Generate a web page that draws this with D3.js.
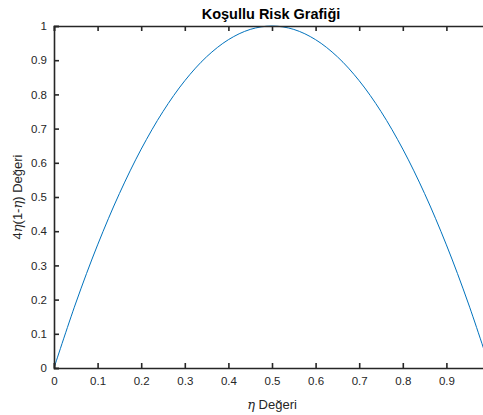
<!DOCTYPE html>
<html>
<head>
  <meta charset="UTF-8" />
  <title>Koşullu Risk Grafiği</title>
  <script src="https://d3js.org/d3.v7.min.js"></script>
  <style>
    body { margin: 0; background: #fff; }
    text { font-family: "Liberation Sans", Arial, Helvetica, sans-serif; fill: #262626; }
    .eta { font-family: "DejaVu Serif", "Liberation Serif", serif; font-style: italic; }
  </style>
</head>
<body>
  <div id="chart"></div>
  <script>
    // values
    const eta = [0, 0.05, 0.1, 0.15, 0.2, 0.25, 0.3, 0.35, 0.4, 0.45, 0.5,
                 0.55, 0.6, 0.65, 0.7, 0.75, 0.8, 0.85, 0.9, 0.95, 1];
    const risk = [0, 0.19, 0.36, 0.51, 0.64, 0.75, 0.84, 0.91, 0.96, 0.99, 1,
                  0.99, 0.96, 0.91, 0.84, 0.75, 0.64, 0.51, 0.36, 0.19, 0];
    const xTicks = [0, 0.1, 0.2, 0.3, 0.4, 0.5, 0.6, 0.7, 0.8, 0.9];
    const yTicks = [0, 0.1, 0.2, 0.3, 0.4, 0.5, 0.6, 0.7, 0.8, 0.9, 1];

    const width = 483, height = 415;
    const mLeft = 54, mTop = 26, mBottom = 368, mRight = 490;

    const svg = d3.select("#chart")
      .append("svg")
      .attr("width", width)
      .attr("height", height);

    const x = d3.scaleLinear().domain([0, 1]).range([mLeft, mRight]);
    const y = d3.scaleLinear().domain([0, 1]).range([mBottom, mTop]);

    // clip for the curve
    svg.append("clipPath").attr("id", "clip")
      .append("rect")
      .attr("x", mLeft).attr("y", mTop - 2)
      .attr("width", mRight - mLeft).attr("height", mBottom - mTop + 2);

    const data = eta.map((e, i) => ({ e: e, r: risk[i] }));

    const line = d3.line()
      .x(d => x(d.e))
      .y(d => y(d.r))
      .curve(d3.curveCatmullRom);

    svg.append("path")
      .datum(data)
      .attr("clip-path", "url(#clip)")
      .attr("fill", "none")
      .attr("stroke", "#0072BD")
      .attr("stroke-width", 1)
      .attr("d", line);

    // axes
    const xAxis = d3.axisBottom(x).tickValues(xTicks).tickSize(-5).tickPadding(9)
      .tickFormat(d3.format("~g"));
    const yAxis = d3.axisLeft(y).tickValues(yTicks).tickSize(-5).tickPadding(7)
      .tickFormat(d3.format("~g"));
    const topAxis = d3.axisTop(x).tickValues(xTicks).tickSize(-5).tickFormat("");

    function styleAxis(g) {
      g.select(".domain").attr("stroke", "#262626").attr("stroke-width", 1.6);
      g.selectAll(".tick line").attr("stroke", "#262626").attr("stroke-width", 1.6);
      g.selectAll(".tick text").attr("font-size", 11.5).attr("fill", "#262626");
    }

    svg.append("g")
      .attr("transform", "translate(0," + mBottom + ")")
      .call(xAxis)
      .call(styleAxis);

    svg.append("g")
      .attr("transform", "translate(" + mLeft + ",0)")
      .call(yAxis)
      .call(styleAxis);

    svg.append("g")
      .attr("transform", "translate(0," + mTop + ")")
      .call(topAxis)
      .call(styleAxis);

    // title
    svg.append("text")
      .attr("x", 271)
      .attr("y", 19)
      .attr("text-anchor", "middle")
      .attr("font-size", 14.5)
      .attr("font-weight", "bold")
      .style("fill", "#000")
      .text("Koşullu Risk Grafiği");

    // x label
    const xl = svg.append("text")
      .attr("x", (mLeft + mRight) / 2)
      .attr("y", 409)
      .attr("text-anchor", "middle")
      .attr("font-size", 13);
    xl.append("tspan").attr("class", "eta").text("η");
    xl.append("tspan").text(" Değeri");

    // y label
    const yl = svg.append("text")
      .attr("transform", "translate(22," + ((mTop + mBottom) / 2) + ") rotate(-90)")
      .attr("text-anchor", "middle")
      .attr("font-size", 13);
    yl.append("tspan").text("4");
    yl.append("tspan").attr("class", "eta").text("η");
    yl.append("tspan").text("(1-");
    yl.append("tspan").attr("class", "eta").text("η");
    yl.append("tspan").text(") Değeri");
  </script>
</body>
</html>
